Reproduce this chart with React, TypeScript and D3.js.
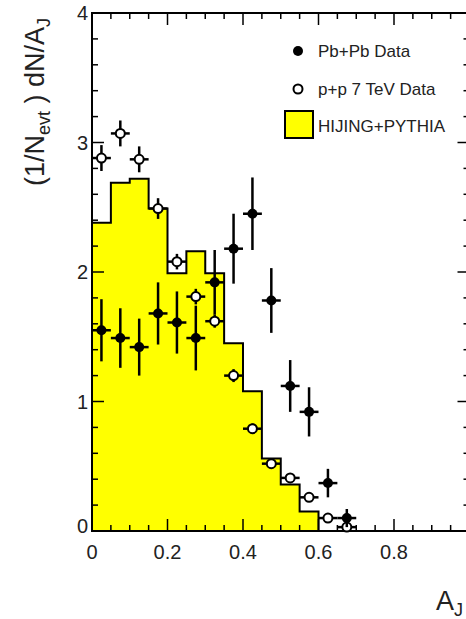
import { useEffect, useRef } from "react";
import * as d3 from "d3";

// HIJING+PYTHIA histogram, bins of 0.05 in A_J (lower edges)
const histEdges = [0, 0.05, 0.1, 0.15, 0.2, 0.25, 0.3, 0.35, 0.4, 0.45, 0.5, 0.55, 0.6];
const histValues = [2.38, 2.69, 2.72, 2.49, 1.99, 2.16, 1.99, 1.45, 1.08, 0.56, 0.36, 0.15, 0];

// Pb+Pb data
const pbX = [0.025, 0.075, 0.125, 0.175, 0.225, 0.275, 0.325, 0.375, 0.425, 0.475, 0.525, 0.575, 0.625, 0.675];
const pbY = [1.55, 1.49, 1.42, 1.68, 1.61, 1.49, 1.92, 2.18, 2.45, 1.78, 1.12, 0.92, 0.37, 0.1];
const pbErr = [0.24, 0.23, 0.22, 0.24, 0.24, 0.25, 0.25, 0.27, 0.28, 0.25, 0.2, 0.19, 0.11, 0.07];

// p+p 7 TeV data
const ppX = [0.025, 0.075, 0.125, 0.175, 0.225, 0.275, 0.325, 0.375, 0.425, 0.475, 0.525, 0.575, 0.625, 0.675];
const ppY = [2.88, 3.07, 2.87, 2.49, 2.08, 1.81, 1.62, 1.2, 0.79, 0.52, 0.41, 0.26, 0.1, 0.03];
const ppErr = [0.1, 0.1, 0.1, 0.08, 0.06, 0.06, 0.05, 0.05, 0.04, 0.03, 0.03, 0.03, 0.02, 0.02];

const xTickLabels = ["0", "0.2", "0.4", "0.6", "0.8"];
const yTickLabels = ["0", "1", "2", "3", "4"];
const legendLabels = ["Pb+Pb Data", "p+p 7 TeV Data", "HIJING+PYTHIA"];

const width = 466;
const height = 619;
const font = "'Liberation Sans', Arial, Helvetica, sans-serif";
const textColor = "#222";

const App = () => {
  const ref = useRef<SVGSVGElement | null>(null);

  useEffect(() => {
    const svg = d3.select(ref.current);
    svg.selectAll("*").remove();

    const x = d3.scaleLinear().domain([0, 1]).range([92, 469.5]);
    const y = d3.scaleLinear().domain([0, 4]).range([531, 13]);
    const halfBin = 0.025;

    const histData = histEdges.map((e, i) => ({ x: e, v: histValues[i] }));

    // yellow histogram
    svg
      .append("path")
      .datum(histData)
      .attr(
        "d",
        d3
          .area<{ x: number; v: number }>()
          .curve(d3.curveStepAfter)
          .x((d) => x(d.x))
          .y0(y(0))
          .y1((d) => y(d.v))
      )
      .attr("fill", "#ffff00");

    svg
      .append("path")
      .datum([{ x: 0, v: 0 }, ...histData, { x: 1, v: 0 }])
      .attr(
        "d",
        d3
          .line<{ x: number; v: number }>()
          .curve(d3.curveStepAfter)
          .x((d) => x(d.x))
          .y((d) => y(d.v))
      )
      .attr("fill", "none")
      .attr("stroke", "black")
      .attr("stroke-width", 2);

    // frame
    const [x0, x1] = x.range();
    const [y0, y1] = y.range();
    svg
      .append("rect")
      .attr("x", x0)
      .attr("y", y1)
      .attr("width", x1 - x0)
      .attr("height", y0 - y1)
      .attr("fill", "none")
      .attr("stroke", "black")
      .attr("stroke-width", 2);

    // ticks on all four sides
    const xTicks = d3.range(0, 21).map((i) => i * 0.05);
    const yTicks = d3.range(0, 21).map((i) => i * 0.2);
    const g = svg.append("g").attr("stroke", "black").attr("stroke-width", 1.5);
    xTicks.forEach((t, i) => {
      const len = i % 4 === 0 ? 12 : 6;
      g.append("line").attr("x1", x(t)).attr("x2", x(t)).attr("y1", y0).attr("y2", y0 - len);
      g.append("line").attr("x1", x(t)).attr("x2", x(t)).attr("y1", y1).attr("y2", y1 + len);
    });
    yTicks.forEach((t, i) => {
      const len = i % 5 === 0 ? 12 : 6;
      g.append("line").attr("x1", x0).attr("x2", x0 + len).attr("y1", y(t)).attr("y2", y(t));
      g.append("line").attr("x1", x1).attr("x2", x1 - len).attr("y1", y(t)).attr("y2", y(t));
    });

    // tick labels
    svg
      .selectAll("xLabels")
      .data(xTickLabels)
      .enter()
      .append("text")
      .attr("x", (d) => x(+d))
      .attr("y", 559)
      .attr("text-anchor", "middle")
      .style("font-family", font)
      .style("font-size", "20px")
      .attr("fill", textColor)
      .text((d) => d);

    svg
      .selectAll("yLabels")
      .data(yTickLabels)
      .enter()
      .append("text")
      .attr("x", 88)
      .attr("y", (d) => y(+d) + 7 - (d === "0" ? 5 : 0))
      .attr("text-anchor", "end")
      .style("font-family", font)
      .style("font-size", "20px")
      .attr("fill", textColor)
      .text((d) => d);

    // axis titles
    const yt = svg
      .append("text")
      .attr("transform", "translate(44,102) rotate(-90)")
      .attr("text-anchor", "middle")
      .style("font-family", font)
      .style("font-size", "27px")
      .attr("fill", textColor);
    yt.append("tspan").text("(1/N");
    yt.append("tspan").attr("dy", 6).style("font-size", "18px").text("evt");
    yt.append("tspan").attr("dy", -6).text(" ) dN/A");
    yt.append("tspan").attr("dy", 6).style("font-size", "18px").text("J");

    const xt = svg
      .append("text")
      .attr("x", 436)
      .attr("y", 610)
      .style("font-family", font)
      .style("font-size", "27px")
      .attr("fill", textColor);
    xt.append("tspan").text("A");
    xt.append("tspan").attr("dy", 6).style("font-size", "18px").text("J");

    // p+p points
    const pp = ppX.map((v, i) => ({ x: v, y: ppY[i], e: ppErr[i] }));
    const pb = pbX.map((v, i) => ({ x: v, y: pbY[i], e: pbErr[i] }));

    const drawBars = (data: { x: number; y: number; e: number }[]) => {
      const bars = svg.append("g").attr("stroke", "black").attr("stroke-width", 2.5);
      bars
        .selectAll("v")
        .data(data)
        .enter()
        .append("line")
        .attr("x1", (d) => x(d.x))
        .attr("x2", (d) => x(d.x))
        .attr("y1", (d) => y(d.y - d.e))
        .attr("y2", (d) => y(d.y + d.e));
      bars
        .selectAll("h")
        .data(data)
        .enter()
        .append("line")
        .attr("x1", (d) => x(d.x - halfBin))
        .attr("x2", (d) => x(d.x + halfBin))
        .attr("y1", (d) => y(d.y))
        .attr("y2", (d) => y(d.y));
    };

    drawBars(pp);
    svg
      .append("g")
      .selectAll("circle")
      .data(pp)
      .enter()
      .append("circle")
      .attr("cx", (d) => x(d.x))
      .attr("cy", (d) => y(d.y))
      .attr("r", 4.5)
      .attr("fill", "white")
      .attr("stroke", "black")
      .attr("stroke-width", 2);

    drawBars(pb);
    svg
      .append("g")
      .selectAll("circle")
      .data(pb)
      .enter()
      .append("circle")
      .attr("cx", (d) => x(d.x))
      .attr("cy", (d) => y(d.y))
      .attr("r", 5)
      .attr("fill", "black");

    // legend
    const lg = svg.append("g");
    lg.append("circle").attr("cx", 298).attr("cy", 51).attr("r", 5).attr("fill", "black");
    lg.append("circle")
      .attr("cx", 298)
      .attr("cy", 89)
      .attr("r", 4.5)
      .attr("fill", "white")
      .attr("stroke", "black")
      .attr("stroke-width", 2);
    lg.append("rect")
      .attr("x", 285)
      .attr("y", 111)
      .attr("width", 28)
      .attr("height", 27)
      .attr("fill", "#ffff00")
      .attr("stroke", "black")
      .attr("stroke-width", 2);
    lg.selectAll("labels")
      .data(legendLabels)
      .enter()
      .append("text")
      .attr("x", 318)
      .attr("y", (d, i) => [57, 95, 132][i])
      .style("font-family", font)
      .style("font-size", "17px")
      .attr("fill", textColor)
      .text((d) => d);
  }, []);

  return (
    <svg
      ref={ref}
      width={width}
      height={height}
      style={{ position: "absolute", left: 0, top: 0, background: "white" }}
    />
  );
};

export default App;
